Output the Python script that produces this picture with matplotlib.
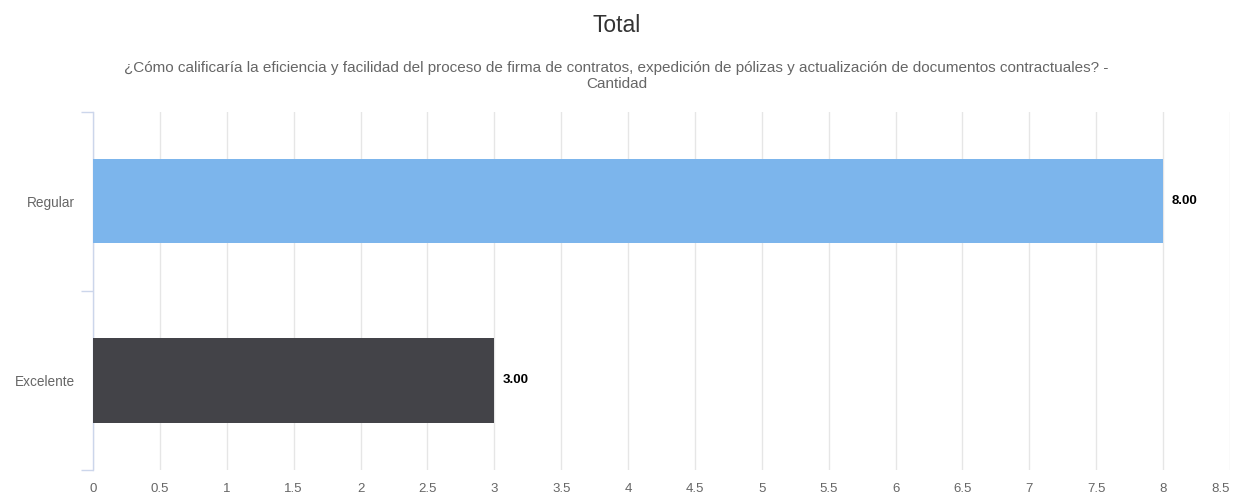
import numpy as np
import matplotlib
matplotlib.use("Agg")
import matplotlib.pyplot as plt

plt.rcParams["font.family"] = ["Liberation Sans", "DejaVu Sans"]

# -----------------------------
# Data
# -----------------------------
categories = ["Excelente", "Regular"]
values = [3, 8]
bar_colors = ["#434348", "#7cb5ec"]

title = "Total"
subtitle = ("¿Cómo calificaría la eficiencia y facilidad del proceso de firma de contratos, "
            "expedición de pólizas y actualización de documentos contractuales? -\nCantidad")

xticks = np.arange(0, 8.5 + 0.01, 0.5)

# -----------------------------
# Plot
# -----------------------------
fig = plt.figure(figsize=(12.33, 4.99), dpi=100)
ax = fig.add_axes([0.0754, 0.058, 0.9222, 0.718])

y = np.arange(len(categories))
ax.barh(y, values, height=0.47, color=bar_colors, zorder=3)

for yi, v in zip(y, values):
    ax.text(v + 0.06, yi, f"{v:.2f}", va="center", ha="left",
            fontsize=9.5, fontweight="bold", color="#000000")

ax.set_xlim(0, 8.5)
ax.set_ylim(-0.5, 1.5)
ax.set_xticks(xticks)
ax.set_xticklabels([f"{t:g}" for t in xticks], fontsize=9.5, color="#666666")
# keep the last label inside the figure
ax.get_xticklabels()[-1].set_horizontalalignment("right")
ax.set_yticks(y)
ax.set_yticklabels(categories, fontsize=9.8, color="#666666")

ax.grid(axis="x", color="#e6e6e6", linewidth=1, zorder=0)
for s in ["top", "right", "bottom"]:
    ax.spines[s].set_visible(False)
ax.spines["left"].set_color("#ccd6eb")
ax.spines["left"].set_linewidth(1)

ax.tick_params(axis="x", length=0, pad=9)
ax.tick_params(axis="y", length=0, pad=13)

# category boundary ticks on the y axis
ax.set_yticks([-0.5, 0.5, 1.5], minor=True)
ax.tick_params(axis="y", which="minor", length=9, color="#ccd6eb", width=1)

fig.text(0.5, 0.948, title, ha="center", va="center", fontsize=16.5, color="#333333")
fig.text(0.5, 0.848, subtitle, ha="center", va="center", fontsize=11,
         color="#666666", linespacing=1.2)

fig.savefig("out.png", dpi=100)
